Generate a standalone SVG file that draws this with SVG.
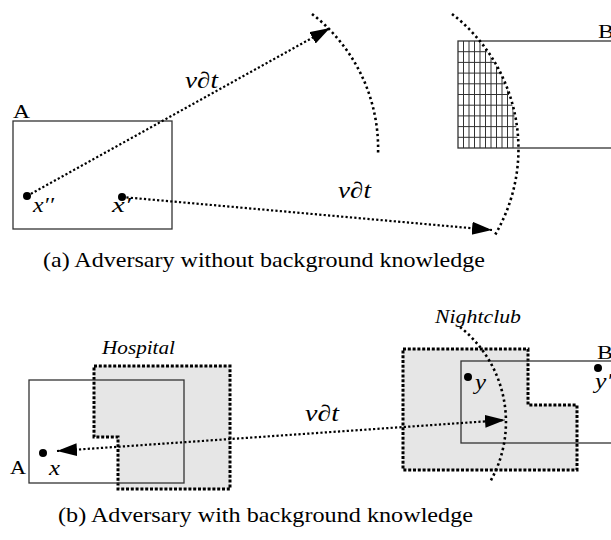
<svg xmlns="http://www.w3.org/2000/svg" width="611" height="540" viewBox="0 0 611 540">
<style>
  .box{fill:none;stroke:#333;stroke-width:1.3}
  .dot{fill:#000}
  .lbl{font-family:"Liberation Serif",serif;font-size:19px;fill:#000}
  .it{font-family:"Liberation Serif",serif;font-style:italic;fill:#000}
  .cap{font-family:"Liberation Serif",serif;font-size:21px;fill:#000}
  .conn{fill:none;stroke:#000;stroke-width:2.2;stroke-dasharray:2.2 2.2}
  .arc{fill:none;stroke:#000;stroke-width:2.6;stroke-dasharray:2.4 3}
  .area{fill:#e6e6e6;stroke:#000;stroke-width:3;stroke-dasharray:3 1.8}
  .grid{stroke:#333;stroke-width:1}
</style>
<defs>
  <marker id="ah" markerUnits="userSpaceOnUse" markerWidth="22" markerHeight="14" refX="20" refY="6.5" orient="auto-start-reverse">
    <path d="M0,0 L20,6.5 L0,13 Z" fill="#000"/>
  </marker>
  <clipPath id="gridclip">
    <path d="M458,41 L479,41 A170,170 0 0 1 518,148 L458,148 Z"/>
  </clipPath>
</defs>

<!-- (a) -->
<g id="regionA_a">
  <rect class="box" x="13" y="121" width="159" height="108"/>
  <text class="lbl" x="13" y="118" textLength="17" lengthAdjust="spacingAndGlyphs">A</text>
</g>
<g id="point_x2">
  <circle class="dot" cx="27" cy="196" r="4"/>
  <text class="it" x="33" y="212" font-size="22" textLength="21" lengthAdjust="spacingAndGlyphs">x′′</text>
</g>
<g id="point_x1">
  <circle class="dot" cx="122" cy="197" r="4"/>
  <text class="it" x="112" y="212" font-size="22" textLength="19" lengthAdjust="spacingAndGlyphs">x′</text>
</g>
<g id="regionB_a">
  <g clip-path="url(#gridclip)">
    <g class="grid">
      <line x1="463.5" y1="41" x2="463.5" y2="148"/>
      <line x1="469" y1="41" x2="469" y2="148"/>
      <line x1="474.5" y1="41" x2="474.5" y2="148"/>
      <line x1="480" y1="41" x2="480" y2="148"/>
      <line x1="485.5" y1="41" x2="485.5" y2="148"/>
      <line x1="491" y1="41" x2="491" y2="148"/>
      <line x1="496.5" y1="41" x2="496.5" y2="148"/>
      <line x1="502" y1="41" x2="502" y2="148"/>
      <line x1="507.5" y1="41" x2="507.5" y2="148"/>
      <line x1="513" y1="41" x2="513" y2="148"/>
      <line x1="458" y1="51.7" x2="520" y2="51.7"/>
      <line x1="458" y1="62.4" x2="520" y2="62.4"/>
      <line x1="458" y1="73.1" x2="520" y2="73.1"/>
      <line x1="458" y1="83.8" x2="520" y2="83.8"/>
      <line x1="458" y1="94.5" x2="520" y2="94.5"/>
      <line x1="458" y1="105.2" x2="520" y2="105.2"/>
      <line x1="458" y1="115.9" x2="520" y2="115.9"/>
      <line x1="458" y1="126.6" x2="520" y2="126.6"/>
      <line x1="458" y1="137.3" x2="520" y2="137.3"/>
    </g>
  </g>
  <rect class="box" x="458" y="41" width="200" height="107"/>
  <text class="lbl" x="598" y="38" textLength="16" lengthAdjust="spacingAndGlyphs">B</text>
</g>
<g id="reach_a">
  <path class="arc" d="M312,14 A170,170 0 0 1 378,155"/>
  <path class="arc" d="M452,14 A170,170 0 0 1 495,235"/>
</g>
<g id="connectors_a">
  <line class="conn" x1="27" y1="196" x2="330" y2="28" marker-end="url(#ah)"/>
  <line class="conn" x1="122" y1="197" x2="492" y2="230" marker-end="url(#ah)"/>
  <text class="it" x="185" y="88" font-size="23" textLength="33" lengthAdjust="spacingAndGlyphs">v∂t</text>
  <text class="it" x="338" y="198" font-size="23" textLength="33" lengthAdjust="spacingAndGlyphs">v∂t</text>
</g>

<text class="cap" x="43" y="267" textLength="442" lengthAdjust="spacingAndGlyphs">(a) Adversary without background knowledge</text>

<!-- (b) -->
<g id="hospital">
  <path class="area" d="M94,366 L230,366 L230,489 L118,489 L118,437 L94,437 Z"/>
  <text class="it" x="102" y="354" font-size="18" textLength="73" lengthAdjust="spacingAndGlyphs">Hospital</text>
</g>
<g id="regionA_b">
  <rect class="box" x="29" y="380" width="155" height="103"/>
  <text class="lbl" x="10" y="474" textLength="16" lengthAdjust="spacingAndGlyphs">A</text>
</g>
<g id="point_x">
  <circle class="dot" cx="43" cy="453" r="4"/>
  <text class="it" x="49" y="475" font-size="22" textLength="11" lengthAdjust="spacingAndGlyphs">x</text>
</g>
<g id="nightclub">
  <path class="area" d="M403,349 L528,349 L528,405 L577,405 L577,470 L403,470 Z"/>
  <text class="it" x="435" y="323" font-size="18" textLength="86" lengthAdjust="spacingAndGlyphs">Nightclub</text>
</g>
<g id="regionB_b">
  <rect class="box" x="461" y="361" width="200" height="82"/>
  <text class="lbl" x="597" y="359" textLength="16" lengthAdjust="spacingAndGlyphs">B</text>
</g>
<g id="point_y">
  <circle class="dot" cx="468" cy="377" r="4"/>
  <text class="it" x="475" y="389" font-size="22" textLength="11" lengthAdjust="spacingAndGlyphs">y</text>
</g>
<g id="point_y2">
  <circle class="dot" cx="598" cy="368" r="4"/>
  <text class="it" x="595" y="388" font-size="22" textLength="17" lengthAdjust="spacingAndGlyphs">y′</text>
</g>
<g id="reach_b">
  <path class="arc" d="M460,327 A121,121 0 0 1 490,482"/>
</g>
<g id="connectors_b">
  <line class="conn" x1="57" y1="451" x2="505" y2="420" marker-start="url(#ah)" marker-end="url(#ah)"/>
  <text class="it" x="305" y="421" font-size="23" textLength="34" lengthAdjust="spacingAndGlyphs">v∂t</text>
</g>

<text class="cap" x="58" y="522" textLength="415" lengthAdjust="spacingAndGlyphs">(b) Adversary with background knowledge</text>
</svg>
